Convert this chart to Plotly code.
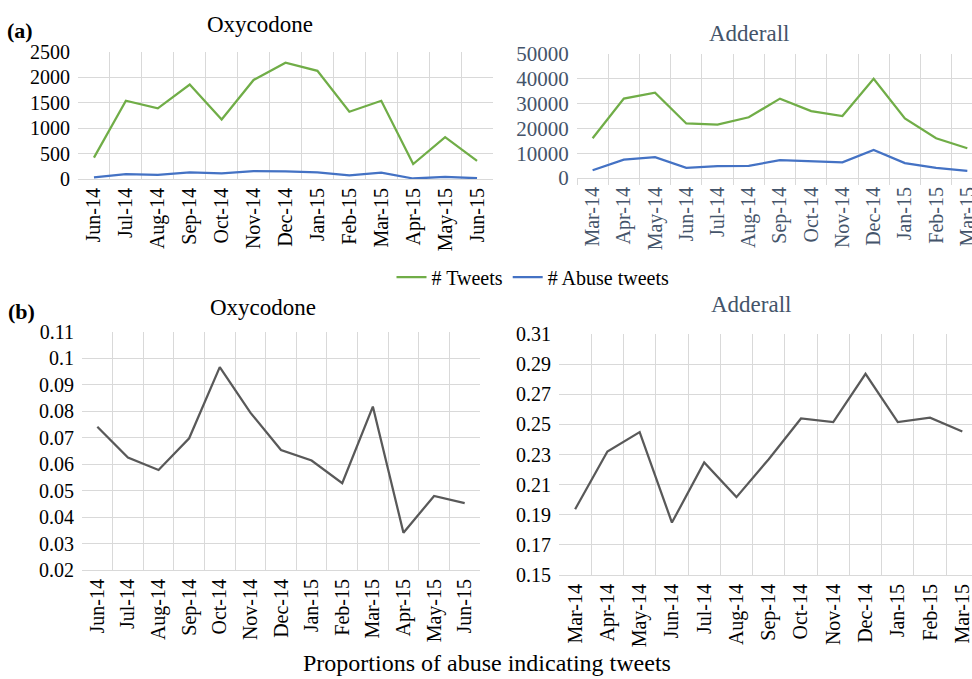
import plotly.graph_objects as go

oxy_months = ["Jun-14", "Jul-14", "Aug-14", "Sep-14", "Oct-14", "Nov-14", "Dec-14",
              "Jan-15", "Feb-15", "Mar-15", "Apr-15", "May-15", "Jun-15"]
add_months = ["Mar-14", "Apr-14", "May-14", "Jun-14", "Jul-14", "Aug-14", "Sep-14",
              "Oct-14", "Nov-14", "Dec-14", "Jan-15", "Feb-15", "Mar-15"]

oxy_tweets = [420, 1540, 1390, 1860, 1170, 1950, 2290, 2130, 1325, 1540, 295, 825, 355]
oxy_abuse = [32, 96, 80, 130, 113, 156, 149, 131, 70, 126, 10, 40, 16]
add_tweets = [16000, 32000, 34400, 22000, 21500, 24500, 32000, 27000, 25000, 40000, 24000, 16000, 12000]
add_abuse = [3100, 7400, 8400, 4100, 4800, 4900, 7200, 6900, 6300, 11300, 6000, 4100, 2900]
oxy_prop = [0.0742, 0.0625, 0.0578, 0.0698, 0.0967, 0.0795, 0.0654, 0.0614, 0.0528, 0.0818, 0.0341, 0.0480, 0.0453]
add_prop = [0.1937, 0.2320, 0.2449, 0.1848, 0.2247, 0.2017, 0.2269, 0.2539, 0.2515, 0.2836, 0.2515, 0.2544, 0.2453]

GREEN = "#70AD47"
BLUE = "#4472C4"
GRAY = "#595959"
GRID = "#D9D9D9"
SLATE = "#44546A"
FONT = "Liberation Serif, DejaVu Serif, serif"
W, H = 972, 679

def px(x):
    return x / W

def py(y):
    return 1 - y / H

fig = go.Figure()

fig.add_trace(go.Scatter(x=oxy_months, y=oxy_tweets, mode="lines", name="# Tweets",
                         line=dict(color=GREEN, width=2.25), xaxis="x", yaxis="y", showlegend=True))
fig.add_trace(go.Scatter(x=oxy_months, y=oxy_abuse, mode="lines", name="# Abuse tweets",
                         line=dict(color=BLUE, width=2.25), xaxis="x", yaxis="y", showlegend=True))
fig.add_trace(go.Scatter(x=add_months, y=add_tweets, mode="lines", name="# Tweets",
                         line=dict(color=GREEN, width=2.25), xaxis="x2", yaxis="y2", showlegend=False))
fig.add_trace(go.Scatter(x=add_months, y=add_abuse, mode="lines", name="# Abuse tweets",
                         line=dict(color=BLUE, width=2.25), xaxis="x2", yaxis="y2", showlegend=False))
fig.add_trace(go.Scatter(x=oxy_months, y=oxy_prop, mode="lines", name="Oxycodone proportion",
                         line=dict(color=GRAY, width=2.25), xaxis="x3", yaxis="y3", showlegend=False))
fig.add_trace(go.Scatter(x=add_months, y=add_prop, mode="lines", name="Adderall proportion",
                         line=dict(color=GRAY, width=2.25), xaxis="x4", yaxis="y4", showlegend=False))

def xax(domain, anchor, cats, rng, color, ticks="", ticklen=10, tickcolor="white"):
    return dict(domain=domain, anchor=anchor, type="category", categoryorder="array",
                categoryarray=cats, range=rng, tickson="boundaries", showgrid=True,
                gridcolor=GRID, gridwidth=1, showline=True, linecolor=GRID, linewidth=1,
                ticks=ticks, ticklen=ticklen, tickcolor=tickcolor, tickangle=-90,
                tickfont=dict(family=FONT, size=20, color=color), zeroline=False,
                fixedrange=True, automargin=False)

def yax(domain, anchor, rng, dtick, tick0, color, size=20):
    return dict(domain=domain, anchor=anchor, range=rng, dtick=dtick, tick0=tick0, showgrid=True,
                gridcolor=GRID, gridwidth=1, showline=False, zeroline=False,
                ticks="outside", ticklen=3, tickcolor="rgba(0,0,0,0)",
                exponentformat="none", separatethousands=False, automargin=False,
                tickfont=dict(family=FONT, size=size, color=color), fixedrange=True)

y2 = yax([py(178), py(54)], "x2", [0, 50000], 10000, 0, SLATE, size=21)
y2["tickformat"] = "d"

fig.update_layout(
    width=W, height=H, margin=dict(l=0, r=0, t=0, b=0, pad=0, autoexpand=False),
    paper_bgcolor="white", plot_bgcolor="white",
    font=dict(family=FONT, size=20, color="black"),
    xaxis=xax([px(78), px(493)], "y", oxy_months, [-0.5, 12.5], "black", ticks="outside", ticklen=8, tickcolor="rgba(0,0,0,0)"),
    yaxis=yax([py(179), py(52)], "x", [0, 2500], 500, 0, "black"),
    xaxis2=xax([px(577), 1.0], "y2", add_months, [-0.5, 12.15], SLATE, ticks="outside", ticklen=6, tickcolor=GRID),
    yaxis2=y2,
    xaxis3=xax([px(82), px(480)], "y3", oxy_months, [-0.5, 12.5], "black", ticks="outside", ticklen=8, tickcolor="rgba(0,0,0,0)"),
    yaxis3=yax([py(570), py(332)], "x3", [0.02, 0.11], 0.01, 0.02, "black"),
    xaxis4=xax([px(559), 1.0], "y4", add_months, [-0.5, 12.3], "black", ticks="outside", ticklen=8, tickcolor="rgba(0,0,0,0)"),
    yaxis4=yax([py(575), py(334)], "x4", [0.15, 0.31], 0.02, 0.15, "black"),
    legend=dict(orientation="h", x=px(533), y=py(277), xanchor="center", yanchor="middle",
                font=dict(family=FONT, size=20, color="black"), itemwidth=30,
                bgcolor="rgba(0,0,0,0)", tracegroupgap=0),
    showlegend=True,
)

annotations = [
    dict(text="<b>(a)</b>", x=px(5), y=py(31), xanchor="left", yanchor="middle", font=dict(size=22, color="black")),
    dict(text="Oxycodone", x=px(260), y=py(25), xanchor="center", yanchor="middle", font=dict(size=23, color="black")),
    dict(text="Adderall", x=px(749), y=py(33), xanchor="center", yanchor="middle", font=dict(size=23, color=SLATE)),
    dict(text="<b>(b)</b>", x=px(6), y=py(312), xanchor="left", yanchor="middle", font=dict(size=22, color="black")),
    dict(text="Oxycodone", x=px(263), y=py(308), xanchor="center", yanchor="middle", font=dict(size=23, color="black")),
    dict(text="Adderall", x=px(751), y=py(304), xanchor="center", yanchor="middle", font=dict(size=23, color=SLATE)),
    dict(text="Proportions of abuse indicating tweets", x=px(487), y=py(663), xanchor="center", yanchor="middle",
         font=dict(size=24, color="black")),
]
for a in annotations:
    a.update(xref="paper", yref="paper", showarrow=False)
    a["font"]["family"] = FONT
fig.update_layout(annotations=annotations)

fig.write_html("out.html", config={"displayModeBar": False},
               post_script="document.body.style.margin='0px';document.body.style.overflow='hidden';")
